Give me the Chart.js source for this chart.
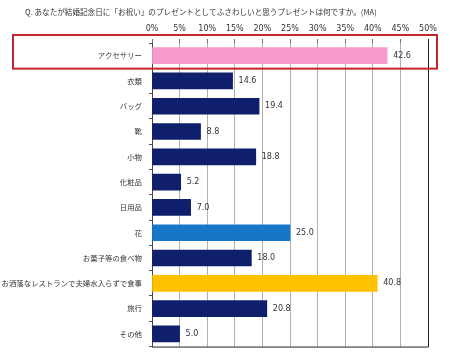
<!DOCTYPE html>
<html>
<head>
<meta charset="utf-8">
<script src="https://cdn.jsdelivr.net/npm/chart.js@4/dist/chart.umd.min.js"></script>
<style>
  html, body { margin: 0; padding: 0; background: #fff; }
  #wrap { width: 450px; height: 358px; position: relative; }
</style>
</head>
<body>
<div id="wrap"><canvas id="c"></canvas></div>
<script>
// data
const categories = ['アクセサリー', '衣類', 'バッグ', '靴', '小物', '化粧品', '日用品', '花',
  'お菓子等の食べ物', 'お洒落なレストランで夫婦水入らずで食事', '旅行', 'その他'];
const values = [42.6, 14.6, 19.4, 8.8, 18.8, 5.2, 7.0, 25.0, 18.0, 40.8, 20.8, 5.0];
const tickLabels = ['0%', '5%', '10%', '15%', '20%', '25%', '30%', '35%', '40%', '45%', '50%'];
const titleText = 'Q. あなたが結婚記念日に「お祝い」のプレゼントとしてふさわしいと思うプレゼントは何ですか。(MA)';

const NAVY = '#0f1f6b';
const barColors = categories.map((c, i) => {
    if (i === 0) return '#f89ac9';
    if (i === 7) return '#1677c8';
    if (i === 9) return '#ffc000';
    return NAVY;
});
const JP = '"Noto Sans CJK JP", "Noto Sans", sans-serif';

// title, frame lines, highlight box and value labels
const extras = {
    id: 'extras',
    afterDatasetsDraw(chart) {
        const { ctx, chartArea: a } = chart;
        const ys = chart.scales.y;
        ctx.save();
        // right edge and bottom line
        ctx.strokeStyle = '#222';
        ctx.lineWidth = 1;
        ctx.beginPath();
        ctx.moveTo(Math.round(a.right) + 0.5, a.top - 4);
        ctx.lineTo(Math.round(a.right) + 0.5, a.bottom + 0.5);
        ctx.lineTo(a.left, a.bottom + 0.5);
        ctx.stroke();

        // value labels
        ctx.fillStyle = '#333';
        ctx.font = '8px "DejaVu Sans", sans-serif';
        ctx.textBaseline = 'middle';
        ctx.textAlign = 'left';
        chart.getDatasetMeta(0).data.forEach((bar, i) => {
            ctx.fillText(values[i].toFixed(1), bar.x + 6, bar.y);
        });

        // highlight box round the first row
        const cy = ys.getPixelForValue(0);
        ctx.strokeStyle = '#c1272d';
        ctx.lineWidth = 2;
        ctx.strokeRect(13, a.top - 8, 424, cy + 13 - (a.top - 8));

        // title
        ctx.fillStyle = '#333';
        ctx.font = '7.6px ' + JP;
        ctx.textBaseline = 'middle';
        ctx.fillText(titleText, 25, 12);
        ctx.restore();
    }
};

new Chart(document.getElementById('c'), {
    type: 'bar',
    data: {
        labels: categories,
        datasets: [{
            data: values,
            backgroundColor: barColors,
            borderWidth: 0,
            barThickness: 16
        }]
    },
    options: {
        indexAxis: 'y',
        responsive: true,
        maintainAspectRatio: false,
        animation: false,
        layout: { padding: { top: 0, right: 22, bottom: 8, left: 0 } },
        plugins: {
            legend: { display: false },
            tooltip: { enabled: false }
        },
        scales: {
            x: {
                position: 'top',
                min: 0,
                max: 50,
                ticks: {
                    stepSize: 5,
                    padding: 5,
                    color: '#333',
                    font: { size: 8, family: '"DejaVu Sans", sans-serif' },
                    callback: (v, i) => tickLabels[i]
                },
                grid: { color: '#b0b0b0', tickLength: 4, tickColor: '#777' },
                border: { display: false },
                afterFit: s => { s.height = 43; }
            },
            y: {
                ticks: {
                    color: '#333',
                    padding: 7,
                    font: { size: 7.4, family: JP }
                },
                grid: { offset: true, drawOnChartArea: false, tickLength: 3, color: '#555' },
                border: { display: true, color: '#444' },
                afterFit: s => { s.width = 152; }
            }
        }
    },
    plugins: [extras]
});
</script>
</body>
</html>
